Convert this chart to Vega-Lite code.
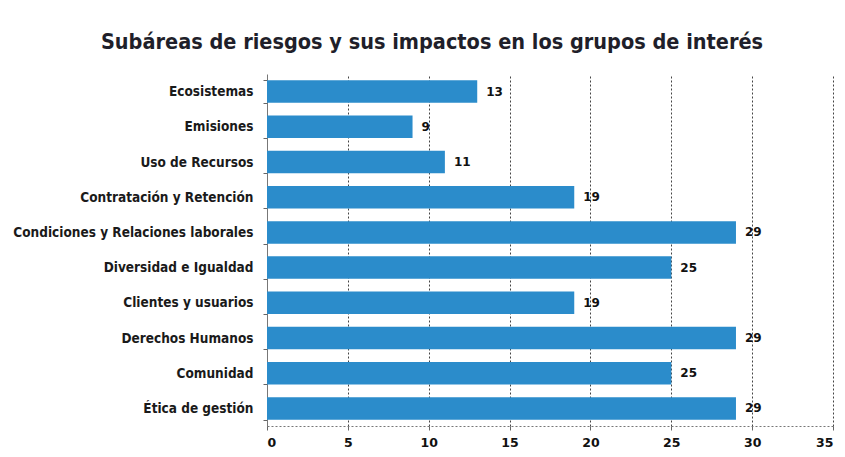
{
  "$schema": "https://vega.github.io/schema/vega-lite/v6.json",
  "autosize": "none",
  "width": 566,
  "height": 352,
  "padding": {"left": 267, "top": 74, "right": 12, "bottom": 31},
  "background": "white",
  "title": {
    "text": "Subáreas de riesgos y sus impactos en los grupos de interés",
    "font": "DejaVu Sans Condensed",
    "fontSize": 21.5,
    "fontWeight": "bold",
    "color": "#1f1f2a",
    "anchor": "middle",
    "frame": "group",
    "dx": -118,
    "offset": 14
  },
  "config": {
    "view": {"stroke": null},
    "font": "DejaVu Sans Condensed"
  },
  "data": {
    "values": [
      {"area": "Ecosistemas", "valor": 13},
      {"area": "Emisiones", "valor": 9},
      {"area": "Uso de Recursos", "valor": 11},
      {"area": "Contratación y Retención", "valor": 19},
      {"area": "Condiciones y Relaciones laborales", "valor": 29},
      {"area": "Diversidad e Igualdad", "valor": 25},
      {"area": "Clientes y usuarios", "valor": 19},
      {"area": "Derechos Humanos", "valor": 29},
      {"area": "Comunidad", "valor": 25},
      {"area": "Ética de gestión", "valor": 29}
    ]
  },
  "encoding": {
    "y": {
      "field": "area",
      "type": "nominal",
      "sort": null,
      "scale": {"paddingInner": 0.36, "paddingOuter": 0.18},
      "axis": {
        "title": null,
        "labelFont": "DejaVu Sans Condensed",
        "labelFontSize": 13.5,
        "labelFontWeight": "bold",
        "labelColor": "#1a1a1a",
        "labelPadding": 10,
        "labelLimit": 300,
        "tickBand": "extent",
        "tickSize": 4,
        "tickColor": "#666",
        "domainColor": "#777",
        "grid": false
      }
    },
    "x": {
      "field": "valor",
      "type": "quantitative",
      "scale": {"domain": [0, 35], "nice": false},
      "axis": {
        "title": null,
        "values": [0, 5, 10, 15, 20, 25, 30, 35],
        "labelFont": "DejaVu Sans",
        "labelFontSize": 12.5,
        "labelFontWeight": "bold",
        "labelColor": "#111",
        "labelPadding": 6,
        "tickSize": 4,
        "tickColor": "#666",
        "domainColor": "#777",
        "domainDash": [2, 2],
        "grid": true,
        "gridColor": "#444",
        "gridDash": [2, 2],
        "gridWidth": 1
      }
    }
  },
  "layer": [
    {
      "mark": {"type": "bar", "color": "#2b8ccb"}
    },
    {
      "mark": {
        "type": "text",
        "align": "left",
        "baseline": "middle",
        "dx": 9,
        "font": "DejaVu Sans",
        "fontSize": 12,
        "fontWeight": "bold",
        "color": "#111"
      },
      "encoding": {"text": {"field": "valor", "type": "quantitative"}}
    }
  ]
}
